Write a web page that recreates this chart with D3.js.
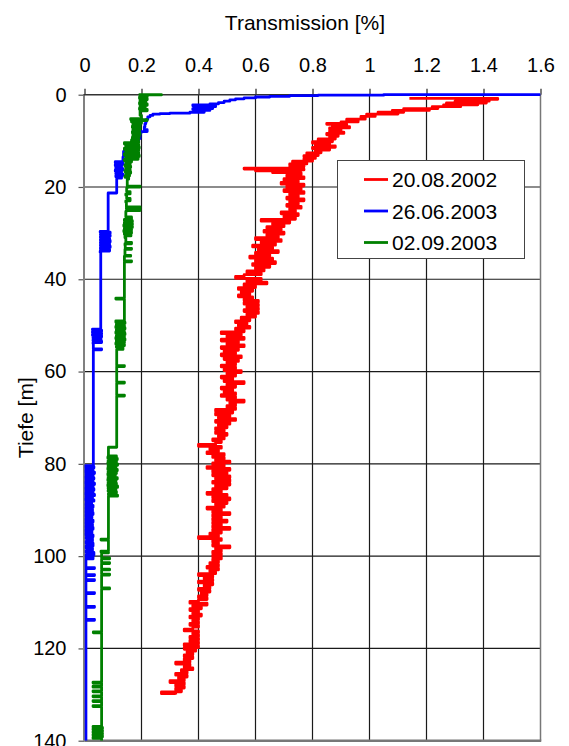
<!DOCTYPE html>
<html>
<head>
<meta charset="utf-8">
<script src="https://cdn.jsdelivr.net/npm/d3@7"></script>
<style>
  html, body { margin: 0; padding: 0; background: #fff; }
  svg { display: block; font-family: "Liberation Sans", Arial, sans-serif; }
</style>
</head>
<body>
<svg id="chart" width="569" height="746"></svg>
<script>
// Transmission profiles: [depth m, transmission %]
const profile20080 = [
  [0.8,1.14],[1.0,1.45],[1.2,1.31],[1.4,1.42],[1.6,1.30],[1.8,1.41],[2.0,1.27],[2.2,1.38],[2.4,1.26],[2.6,1.32],
  [2.8,1.22],[3.0,1.24],[3.2,1.12],[3.4,1.21],[3.6,1.08],[3.8,1.12],[4.0,1.03],[4.2,1.10],[4.4,0.99],[4.7,1.02],
  [5.0,0.97],[5.3,0.985],[5.6,0.92],[5.9,0.96],[6.2,0.90],[6.4,0.85],[6.6,0.92],[6.9,0.87],[7.2,0.93],[7.5,0.86],
  [7.8,0.90],[8.1,0.86],[8.4,0.91],[8.7,0.85],[9.0,0.89],[9.3,0.86],[9.6,0.88],[9.9,0.82],[10.2,0.87],[10.5,0.80],
  [10.8,0.86],[11.1,0.81],[11.4,0.88],[11.7,0.80],[12.0,0.86],[12.3,0.81],[12.6,0.83],[12.9,0.78],[13.2,0.82],[13.5,0.77],
  [13.8,0.81],[14.1,0.77],[14.4,0.80],[14.7,0.73],[15.0,0.78],[15.3,0.72],[15.6,0.77],[15.9,0.72],[16.1,0.56],[16.3,0.77],
  [16.5,0.60],[16.7,0.75],[16.9,0.66],[17.1,0.76],[17.4,0.76],[17.8,0.71],[18.2,0.77],[18.6,0.70],[19.0,0.75],[19.4,0.69],
  [19.8,0.77],[20.2,0.71],[20.6,0.76],[21.0,0.70],[21.4,0.77],[21.8,0.72],[22.2,0.75],[22.6,0.71],[23.0,0.77],[23.4,0.72],
  [23.8,0.75],[24.2,0.71],[24.6,0.76],[25.0,0.72],[25.4,0.74],[25.8,0.69],[26.2,0.75],[26.6,0.70],[27.0,0.74],[27.4,0.62],
  [27.8,0.72],[28.2,0.66],[28.6,0.70],[29.0,0.64],[29.4,0.69],[29.8,0.63],[30.2,0.70],[30.6,0.64],[31.0,0.68],[31.4,0.60],
  [31.8,0.69],[32.2,0.62],[32.6,0.67],[33.0,0.59],[33.4,0.66],[33.8,0.61],[34.2,0.68],[34.6,0.60],[35.0,0.65],[35.4,0.58],
  [35.8,0.66],[36.2,0.60],[36.6,0.67],[37.0,0.59],[37.4,0.65],[37.8,0.60],[38.2,0.63],[38.6,0.57],[39.0,0.62],[39.4,0.56],
  [39.8,0.53],[40.2,0.62],[40.6,0.57],[41.0,0.64],[41.4,0.56],[41.8,0.60],[42.2,0.54],[42.6,0.59],[43.0,0.55],[43.4,0.58],
  [43.8,0.54],[44.2,0.59],[44.6,0.56],[45.0,0.61],[45.4,0.56],[45.8,0.61],[46.2,0.57],[46.6,0.61],[47.0,0.56],[47.4,0.61],
  [47.8,0.57],[48.2,0.60],[48.6,0.55],[49.0,0.58],[49.4,0.53],[49.8,0.57],[50.2,0.54],[50.6,0.58],[51.0,0.53],[51.4,0.56],
  [51.8,0.48],[52.2,0.55],[52.6,0.50],[53.0,0.56],[53.4,0.48],[53.8,0.54],[54.2,0.50],[54.6,0.56],[55.0,0.48],[55.4,0.54],
  [55.8,0.49],[56.2,0.53],[56.6,0.48],[57.0,0.55],[57.4,0.49],[57.8,0.54],[58.2,0.50],[58.6,0.53],[59.0,0.48],[59.4,0.53],
  [59.8,0.49],[60.2,0.55],[60.6,0.50],[61.0,0.53],[61.4,0.48],[61.8,0.52],[62.2,0.49],[62.6,0.56],[63.0,0.50],[63.4,0.53],
  [63.8,0.48],[64.2,0.52],[64.6,0.49],[65.0,0.53],[65.4,0.48],[65.8,0.53],[66.2,0.50],[66.6,0.56],[67.0,0.51],[67.4,0.53],
  [67.8,0.50],[68.2,0.53],[68.6,0.46],[69.0,0.52],[69.4,0.46],[69.8,0.51],[70.2,0.47],[70.6,0.53],[71.0,0.46],[71.4,0.51],
  [71.8,0.47],[72.2,0.50],[72.6,0.46],[73.0,0.49],[73.4,0.46],[73.8,0.50],[74.2,0.47],[74.6,0.49],[75.0,0.45],[75.4,0.48],
  [75.8,0.46],[76.2,0.40],[76.6,0.48],[77.0,0.44],[77.4,0.47],[77.8,0.43],[78.2,0.49],[78.6,0.45],[79.0,0.49],[79.4,0.46],
  [79.8,0.51],[80.2,0.45],[80.6,0.49],[81.0,0.43],[81.4,0.51],[81.8,0.45],[82.2,0.50],[82.6,0.45],[83.0,0.51],[83.4,0.46],
  [83.8,0.51],[84.2,0.45],[84.6,0.51],[85.0,0.46],[85.4,0.50],[85.8,0.45],[86.2,0.48],[86.6,0.43],[87.0,0.50],[87.4,0.45],
  [87.8,0.51],[88.2,0.45],[88.6,0.50],[89.0,0.46],[89.4,0.49],[89.8,0.43],[90.2,0.48],[90.6,0.45],[91.0,0.51],[91.4,0.45],
  [91.8,0.48],[92.2,0.45],[92.6,0.50],[93.0,0.45],[93.4,0.48],[93.8,0.45],[94.2,0.51],[94.6,0.45],[95.0,0.48],[95.4,0.44],
  [95.8,0.47],[96.2,0.40],[96.6,0.48],[97.0,0.45],[97.4,0.47],[97.8,0.45],[98.2,0.51],[98.6,0.46],[99.0,0.48],[99.4,0.45],
  [99.8,0.48],[100.2,0.45],[100.6,0.48],[101.0,0.45],[101.4,0.47],[101.8,0.44],[102.2,0.47],[102.6,0.43],[103.0,0.47],[103.4,0.44],
  [103.8,0.46],[104.2,0.40],[104.6,0.45],[105.0,0.42],[105.4,0.45],[105.8,0.40],[106.2,0.45],[106.6,0.42],[107.0,0.44],[107.4,0.40],
  [107.8,0.44],[108.2,0.41],[108.6,0.43],[109.0,0.40],[109.4,0.43],[109.8,0.40],[110.2,0.37],[110.6,0.43],[111.0,0.38],[111.4,0.41],
  [111.8,0.37],[112.2,0.40],[112.6,0.38],[113.0,0.41],[113.4,0.37],[113.8,0.40],[114.2,0.38],[114.6,0.40],[115.0,0.37],[115.4,0.40],
  [115.8,0.38],[116.2,0.35],[116.6,0.40],[117.0,0.38],[117.4,0.40],[117.8,0.37],[118.2,0.40],[118.6,0.37],[119.0,0.40],[119.4,0.35],
  [119.8,0.40],[120.2,0.35],[120.6,0.39],[121.0,0.36],[121.4,0.38],[121.8,0.35],[122.2,0.38],[122.6,0.35],[123.0,0.37],[123.4,0.32],
  [123.8,0.37],[124.2,0.35],[124.6,0.38],[125.0,0.34],[125.4,0.36],[125.8,0.32],[126.2,0.36],[126.6,0.33],[127.0,0.35],[127.4,0.30],
  [127.8,0.35],[128.2,0.32],[128.6,0.35],[129.0,0.32],[129.4,0.34],[129.8,0.27],[130.0,0.32]
];

const profile20030626 = [
  [0,1.60],[0.1,1.05],[0.2,0.82],[0.35,0.72],[0.5,0.65],[0.7,0.60],[0.9,0.56],[1.1,0.53],[1.4,0.51],[1.7,0.49],
  [2.0,0.47],[2.2,0.44],[2.4,0.38],[2.6,0.46],[2.8,0.39],[3.0,0.45],[3.2,0.38],[3.4,0.44],[3.6,0.40],[3.8,0.42],
  [4.0,0.37],[4.1,0.30],[4.2,0.265],[4.5,0.24],[4.8,0.23],[5.3,0.222],[5.8,0.218],[6.3,0.215],[7.0,0.212],[7.6,0.21],
  [8.0,0.22],[8.4,0.198],[9.0,0.195],[9.5,0.195],[10.0,0.19],[11.0,0.18],[11.8,0.17],[12.3,0.14],[13.5,0.137],[14.5,0.135],
  [14.8,0.108],[15.1,0.135],[15.4,0.108],[15.7,0.13],[16.0,0.11],[16.3,0.135],[16.6,0.108],[16.9,0.13],[17.2,0.11],[17.5,0.135],
  [17.8,0.11],[18.1,0.13],[18.5,0.113],[21.3,0.113],[21.5,0.083],[29.6,0.083],[29.8,0.055],[30.1,0.09],[30.4,0.056],[30.7,0.09],
  [31.0,0.056],[31.3,0.088],[31.6,0.056],[31.9,0.09],[32.2,0.056],[32.5,0.088],[32.8,0.056],[33.1,0.09],[33.5,0.056],[33.9,0.088],
  [34.2,0.055],[50.8,0.057],[51.0,0.028],[51.3,0.06],[51.6,0.028],[51.9,0.06],[52.2,0.028],[52.5,0.06],[52.8,0.03],[53.1,0.058],
  [53.4,0.03],[53.7,0.06],[54.0,0.03],[54.3,0.031],[55.1,0.031],[55.3,0.06],[55.5,0.031],[80.4,0.031],[80.6,0.002],[80.9,0.033],
  [81.2,0.004],[81.5,0.03],[81.8,0.003],[82.1,0.035],[82.4,0.004],[82.7,0.03],[83.0,0.003],[83.3,0.033],[83.6,0.004],[83.9,0.03],
  [84.2,0.003],[84.5,0.035],[84.8,0.004],[85.1,0.03],[85.4,0.003],[85.7,0.033],[86.0,0.004],[86.3,0.03],[86.6,0.003],[86.9,0.035],
  [87.2,0.004],[87.5,0.028],[87.8,0.003],[88.1,0.033],[88.4,0.005],[88.7,0.025],[89.0,0.004],[89.4,0.03],[89.8,0.004],[90.2,0.028],
  [90.6,0.004],[91.0,0.03],[91.4,0.004],[91.8,0.026],[92.2,0.004],[92.6,0.03],[93.0,0.004],[93.4,0.028],[93.8,0.004],[94.2,0.03],
  [94.6,0.004],[95.0,0.026],[95.4,0.004],[95.8,0.03],[96.2,0.005],[96.8,0.028],[97.2,0.005],[97.8,0.03],[98.2,0.005],[98.8,0.028],
  [99.2,0.005],[99.8,0.033],[100.2,0.005],[100.6,0.03],[101.0,0.005],[102.5,0.005],[102.7,0.035],[102.9,0.005],[104.0,0.005],[104.2,0.035],
  [104.4,0.005],[105.1,0.005],[105.3,0.035],[105.5,0.005],[107.9,0.005],[108.1,0.035],[108.3,0.005],[110.9,0.005],[111.1,0.035],[111.3,0.005],
  [113.7,0.005],[113.9,0.035],[114.1,0.005],[140,0.005]
];

const profile20030902 = [
  [0.0,0.19],[0.05,0.27],[0.2,0.20],[0.5,0.22],[0.8,0.193],[1.1,0.22],[1.4,0.195],[1.7,0.215],[2.0,0.193],[2.3,0.22],
  [2.6,0.195],[2.9,0.213],[3.2,0.193],[3.5,0.22],[3.8,0.195],[4.5,0.195],[5.2,0.20],[5.4,0.162],[5.6,0.22],[5.9,0.165],
  [6.2,0.20],[6.5,0.17],[6.8,0.195],[7.1,0.168],[7.4,0.195],[7.7,0.17],[8.0,0.193],[8.3,0.168],[8.6,0.195],[8.9,0.17],
  [9.2,0.192],[9.5,0.168],[9.8,0.19],[10.1,0.165],[10.4,0.19],[10.7,0.14],[11.0,0.19],[11.3,0.145],[11.6,0.192],[11.9,0.14],
  [12.2,0.19],[12.5,0.145],[12.8,0.19],[13.1,0.14],[13.4,0.192],[13.7,0.145],[14.0,0.188],[14.3,0.14],[14.6,0.165],[14.9,0.145],
  [15.2,0.16],[15.5,0.142],[15.8,0.162],[16.1,0.145],[16.4,0.16],[16.7,0.142],[17.0,0.162],[17.3,0.145],[17.6,0.158],[17.9,0.142],
  [18.3,0.155],[19.0,0.15],[19.8,0.15],[20.0,0.195],[20.2,0.15],[21.0,0.148],[21.5,0.16],[21.8,0.145],[22.5,0.148],[23.0,0.16],
  [23.3,0.145],[24.3,0.147],[24.5,0.195],[24.7,0.147],[25.1,0.195],[25.3,0.147],[26.5,0.145],[27.0,0.165],[27.3,0.14],[27.6,0.168],
  [27.9,0.14],[28.2,0.168],[28.5,0.138],[28.8,0.168],[29.1,0.14],[29.4,0.165],[29.7,0.138],[30.0,0.165],[30.3,0.14],[30.6,0.163],
  [31.0,0.142],[32.0,0.145],[32.3,0.165],[32.6,0.142],[33.3,0.143],[33.5,0.165],[33.7,0.142],[34.8,0.142],[35.0,0.162],[35.2,0.14],
  [36.0,0.14],[36.2,0.165],[36.4,0.14],[44.1,0.14],[44.3,0.11],[44.5,0.14],[49.0,0.14],[49.3,0.11],[49.6,0.142],[49.9,0.112],
  [50.2,0.14],[50.5,0.11],[50.8,0.142],[51.1,0.112],[51.4,0.14],[51.7,0.11],[52.0,0.142],[52.3,0.112],[52.6,0.14],[52.9,0.11],
  [53.2,0.142],[53.5,0.112],[53.8,0.14],[54.1,0.11],[54.4,0.14],[54.8,0.112],[55.2,0.135],[55.6,0.113],[58.7,0.113],[58.9,0.14],
  [59.1,0.113],[62.3,0.113],[62.5,0.14],[62.7,0.113],[65.1,0.113],[65.3,0.14],[65.5,0.113],[76.4,0.113],[76.8,0.084],[78.3,0.084],
  [78.5,0.112],[78.8,0.082],[79.1,0.115],[79.4,0.083],[79.7,0.112],[80.0,0.082],[80.3,0.116],[80.6,0.083],[80.9,0.11],[81.2,0.082],
  [81.5,0.115],[81.8,0.083],[82.1,0.112],[82.4,0.082],[82.7,0.108],[83.0,0.083],[83.3,0.115],[83.6,0.082],[83.9,0.11],[84.2,0.083],
  [84.5,0.112],[84.8,0.082],[85.1,0.116],[85.4,0.083],[85.7,0.11],[86.0,0.083],[86.4,0.112],[86.8,0.084],[87.0,0.116],[87.3,0.084],
  [96.3,0.084],[96.5,0.058],[96.7,0.084],[98.9,0.084],[99.1,0.058],[99.3,0.084],[99.5,0.06],[100.4,0.06],[100.6,0.088],[100.8,0.06],
  [101.4,0.06],[101.6,0.088],[101.8,0.06],[102.8,0.06],[103.0,0.088],[103.2,0.06],[103.9,0.06],[104.1,0.088],[104.3,0.06],[106.9,0.06],
  [107.1,0.088],[107.3,0.06],[116.4,0.06],[116.6,0.031],[116.8,0.06],[127.3,0.06],[127.5,0.03],[127.7,0.06],[128.2,0.06],[128.4,0.03],
  [128.6,0.06],[129.2,0.06],[129.4,0.03],[129.6,0.06],[130.3,0.06],[130.5,0.03],[130.7,0.06],[131.3,0.06],[131.5,0.03],[131.7,0.06],
  [132.4,0.06],[132.6,0.03],[132.8,0.06],[136.9,0.06],[137.1,0.03],[137.4,0.063],[137.7,0.03],[138.0,0.063],[138.3,0.03],[138.6,0.063],
  [138.9,0.03],[139.2,0.063],[139.5,0.03],[139.8,0.06],[140,0.06]
];

const seriesNames = ["20.08.2002", "26.06.2003", "02.09.2003"];
const seriesColors = ["#ff0000", "#0000ff", "#008000"];
const xTicks = [0, 0.2, 0.4, 0.6, 0.8, 1.0, 1.2, 1.4, 1.6];
const xTickLabels = ["0", "0.2", "0.4", "0.6", "0.8", "1", "1.2", "1.4", "1.6"];
const yTicks = [0, 20, 40, 60, 80, 100, 120, 140];
const xTitle = "Transmission [%]";
const yTitle = "Tiefe [m]";

const svg = d3.select("#chart");
const plotLeft = 84.5, plotRight = 540.5, plotTop = 94.7, plotBottom = 740.7;

const x = d3.scaleLinear().domain([0, 1.6]).range([plotLeft, plotRight]);
const y = d3.scaleLinear().domain([0, 140]).range([plotTop, plotBottom]);

// grid
const grid = svg.append("g");
grid.selectAll("line.gv").data(xTicks.filter(v => v > 0 && v < 1.6)).join("line")
  .attr("x1", d => x(d)).attr("x2", d => x(d)).attr("y1", plotTop).attr("y2", plotBottom)
  .attr("stroke", "#1a1a1a").attr("stroke-width", 1.2);
grid.selectAll("line.gh").data(yTicks.filter(v => v > 0 && v < 140)).join("line")
  .attr("x1", plotLeft).attr("x2", plotRight).attr("y1", d => y(d)).attr("y2", d => y(d))
  .attr("stroke", "#1a1a1a").attr("stroke-width", 1.2);

// frame: right and bottom edges in gray
svg.append("line").attr("x1", plotRight).attr("x2", plotRight).attr("y1", plotTop).attr("y2", plotBottom)
  .attr("stroke", "#777").attr("stroke-width", 1.5);
svg.append("line").attr("x1", plotLeft).attr("x2", plotRight + 0.75).attr("y1", plotBottom).attr("y2", plotBottom)
  .attr("stroke", "#777").attr("stroke-width", 2.5);

// axes
const xAxis = svg.append("g").attr("transform", `translate(0,${plotTop})`)
  .call(d3.axisTop(x).tickValues(xTicks).tickFormat((d, i) => xTickLabels[i])
    .tickSizeInner(6).tickSizeOuter(0).tickPadding(17));
xAxis.select(".domain").remove();
xAxis.selectAll(".tick line").attr("stroke", "#222").attr("stroke-width", 1.2);
xAxis.selectAll(".tick text").attr("font-size", 20).attr("fill", "#000")
  .attr("font-family", "'Liberation Sans', Arial, sans-serif");

const yAxis = svg.append("g").attr("transform", `translate(${plotLeft},0)`)
  .call(d3.axisLeft(y).tickValues(yTicks).tickSizeInner(6).tickSizeOuter(0).tickPadding(12));
yAxis.select(".domain").remove();
yAxis.selectAll(".tick line").attr("stroke", "#555").attr("stroke-width", 1.2);
yAxis.selectAll(".tick text").attr("font-size", 20).attr("fill", "#000")
  .attr("font-family", "'Liberation Sans', Arial, sans-serif");

svg.append("line").attr("x1", plotLeft - 0.5).attr("x2", plotLeft - 0.5).attr("y1", plotTop).attr("y2", plotBottom)
  .attr("stroke", "#808080").attr("stroke-width", 2);
svg.append("line").attr("x1", plotLeft - 1).attr("x2", plotRight).attr("y1", plotTop).attr("y2", plotTop)
  .attr("stroke", "#333").attr("stroke-width", 1.6);

// titles
svg.append("text").attr("x", 305).attr("y", 30).attr("text-anchor", "middle")
  .attr("font-size", 21).text(xTitle);
svg.append("text").attr("transform", `translate(33,${(plotTop + plotBottom) / 2}) rotate(-90)`)
  .attr("text-anchor", "middle").attr("font-size", 21).text(yTitle);

// profiles
svg.append("defs").append("clipPath").attr("id", "plotClip")
  .append("rect").attr("x", plotLeft).attr("y", plotTop - 2)
  .attr("width", plotRight - plotLeft).attr("height", plotBottom - plotTop + 2);

// step joins keep the sensor excursions horizontal at each sampled depth
const line = d3.line().x(d => x(d[1])).y(d => y(d[0])).curve(d3.curveStepAfter);
const profiles = [profile20080, profile20030626, profile20030902];
svg.append("g").attr("clip-path", "url(#plotClip)")
  .selectAll("path").data(profiles).join("path")
  .attr("d", line)
  .attr("fill", "none")
  .attr("stroke", (d, i) => seriesColors[i])
  .attr("stroke-width", 2.8)
  .attr("stroke-linejoin", "round");

// legend
const lg = svg.append("g");
lg.append("rect").attr("x", 337.5).attr("y", 160.5).attr("width", 187).attr("height", 98)
  .attr("fill", "#fff").attr("stroke", "#444").attr("stroke-width", 1);
seriesNames.forEach((name, i) => {
  const cy = 179.5 + i * 31.5;
  lg.append("line").attr("x1", 364).attr("x2", 388).attr("y1", cy).attr("y2", cy)
    .attr("stroke", seriesColors[i]).attr("stroke-width", 2.8);
  lg.append("text").attr("x", 392).attr("y", cy + 7.5).attr("font-size", 21).text(name);
});
</script>
</body>
</html>
